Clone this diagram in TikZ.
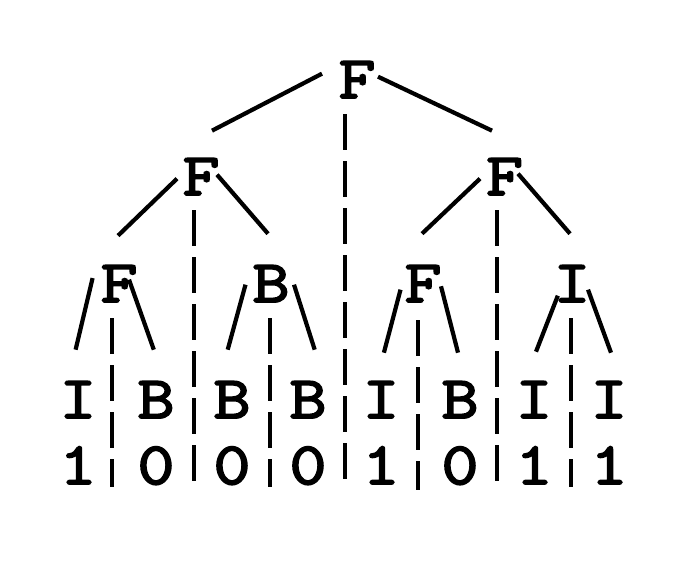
\documentclass[tikz,border=0pt]{standalone}
\usepackage{fontspec}
\usetikzlibrary{calc}
\newfontfamily\treefont[FakeBold=3,FakeStretch=1.2]{Latin Modern Mono}
\begin{document}
\begin{tikzpicture}[x=1pt,y=-1pt,
  sym/.style={anchor=base,inner sep=0pt,font=\treefont\fontsize{60}{60}\selectfont},
  edge/.style={line width=4.2pt},
  sep/.style={line width=3.1pt,dash pattern=on 36pt off 11pt}]
\useasboundingbox[fill=white] (0,0) rectangle (684,574);

% tree symbols (placed by centre x and baseline y)
\node[sym] (r)  at (357,98)  {F};
\node[sym] (a)  at (201,195) {F};
\node[sym] (b)  at (504.5,195) {F};
\node[sym] (aa) at (119,302) {F};
\node[sym] (ab) at (271,302) {B};
\node[sym] (ba) at (423,302) {F};
\node[sym] (bb) at (572,302) {I};
\node[sym] (l1) at (78,418)  {I};
\node[sym] (l2) at (156,418) {B};
\node[sym] (l3) at (232,418) {B};
\node[sym] (l4) at (308,418) {B};
\node[sym] (l5) at (381,418) {I};
\node[sym] (l6) at (460,418) {B};
\node[sym] (l7) at (534,418) {I};
\node[sym] (l8) at (609,418) {I};
\node[sym] (n1) at (78,484)  {1};
\node[sym] (n2) at (156,484) {0};
\node[sym] (n3) at (232,484) {0};
\node[sym] (n4) at (308,484) {0};
\node[sym] (n5) at (381,484) {1};
\node[sym] (n6) at (460,484) {0};
\node[sym] (n7) at (534,484) {1};
\node[sym] (n8) at (609,484) {1};

% branches
\draw[edge] ($(r)+(-35,-6)$) -- ($(a)+(11,-46)$);
\draw[edge] ($(r)+(21,-3)$) -- ($(b)+(-12.5,-46)$);
\draw[edge] ($(a)+(-24,2)$) -- ($(aa)+(-1,-48)$);
\draw[edge] ($(a)+(16,-2)$) -- ($(ab)+(-3,-50)$);
\draw[edge] ($(b)+(-24.5,2)$) -- ($(ba)+(-1,-50)$);
\draw[edge] ($(b)+(13.5,-3)$) -- ($(bb)+(-2,-50)$);
\draw[edge] ($(aa)+(-26.4,-5.6)$) -- ($(l1)+(-2.4,-50)$);
\draw[edge] ($(aa)+(10,-4)$) -- ($(l2)+(-2.2,-50)$);
\draw[edge] ($(ab)+(-25.5,1)$) -- ($(l3)+(-4.3,-50)$);
\draw[edge] ($(ab)+(23,1)$) -- ($(l4)+(6.7,-50)$);
\draw[edge] ($(ba)+(-22.5,6)$) -- ($(l5)+(2.9,-47)$);
\draw[edge] ($(ba)+(18,2.6)$) -- ($(l6)+(-2,-47)$);
\draw[edge] ($(bb)+(-14.2,12)$) -- ($(l7)+(2,-48)$);
\draw[edge] ($(bb)+(16,6)$) -- ($(l8)+(2,-47)$);

% dashed separators
\coordinate (s0t) at (345,114); \coordinate (s0b) at (345,487);
\coordinate (s1t) at (194,210); \coordinate (s1b) at (194,487);
\coordinate (s2t) at (497,210); \coordinate (s2b) at (497,487);
\coordinate (s3t) at (112,318); \coordinate (s3b) at (112,487);
\coordinate (s4t) at (270,318); \coordinate (s4b) at (270,487);
\coordinate (s5t) at (418,320); \coordinate (s5b) at (418,490);
\coordinate (s6t) at (571,318); \coordinate (s6b) at (571,487);
\foreach \i in {0,...,6} \draw[sep] (s\i t) -- (s\i b);
\end{tikzpicture}
\end{document}
